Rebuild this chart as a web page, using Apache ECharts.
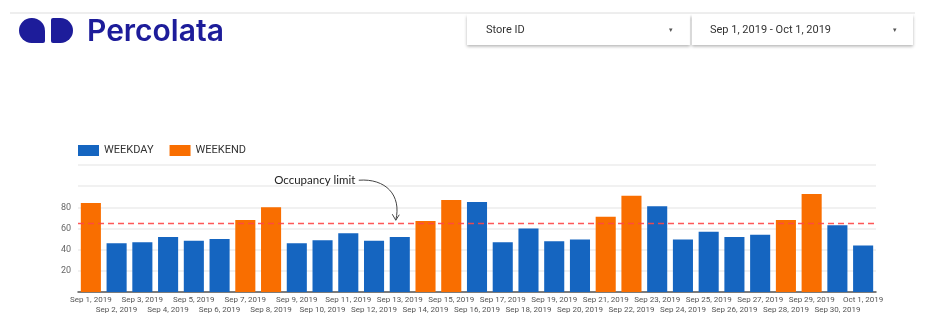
<!DOCTYPE html>
<html>
<head>
<meta charset="utf-8">
<script src="https://cdn.jsdelivr.net/npm/echarts@6/dist/echarts.min.js"></script>
<style>
html,body{margin:0;padding:0;background:#fff;}
#main{width:939px;height:330px;}
</style>
</head>
<body>
<div id="main"></div>
<script>
const categories = ['Sep 1, 2019','Sep 2, 2019','Sep 3, 2019','Sep 4, 2019','Sep 5, 2019','Sep 6, 2019','Sep 7, 2019','Sep 8, 2019','Sep 9, 2019','Sep 10, 2019','Sep 11, 2019','Sep 12, 2019','Sep 13, 2019','Sep 14, 2019','Sep 15, 2019','Sep 16, 2019','Sep 17, 2019','Sep 18, 2019','Sep 19, 2019','Sep 20, 2019','Sep 21, 2019','Sep 22, 2019','Sep 23, 2019','Sep 24, 2019','Sep 25, 2019','Sep 26, 2019','Sep 27, 2019','Sep 28, 2019','Sep 29, 2019','Sep 30, 2019','Oct 1, 2019'];
const weekday = [null,46,47,52,48.5,50,null,null,46,49,55.5,48.5,52,null,null,85,47,60,48,49.5,null,null,81,49.5,57,52,54,null,null,63,44];
const weekend = [84,null,null,null,null,null,68,80,null,null,null,null,null,67,87,null,null,null,null,null,71,91,null,null,null,null,null,68,92.5,null,null];
const occupancyLimit = 65;
const yTicks = [20,40,60,80];

const chart = echarts.init(document.getElementById('main'));
const BLUE = '#1565c0', ORANGE = '#f96e00';
const limitStyle = {color:'rgba(255,70,70,0.9)', type:[6,4], width:1.3};

chart.setOption({
  animation:false,
  legend:{
    left:78, top:145, itemWidth:21, itemHeight:11, itemGap:16, padding:0,
    icon:'rect',
    textStyle:{fontFamily:'Roboto', fontSize:11, color:'#333'},
    data:['WEEKDAY','WEEKEND']
  },
  grid:{left:78, right:63, top:165, bottom:38},
  xAxis:{
    type:'category', data:categories,
    axisLine:{lineStyle:{color:'#555', width:1.5}},
    axisTick:{show:false},
    axisLabel:{
      interval:0, fontFamily:'Roboto', fontSize:8, color:'#555', margin:3, lineHeight:10,
      formatter:(v,i)=> i%2===1 ? '\n'+v : v
    }
  },
  yAxis:{
    type:'value', min:0, max:120, interval:20,
    axisLine:{show:false}, axisTick:{show:false},
    splitLine:{lineStyle:{color:'#ececec', width:1.5}},
    axisLabel:{fontFamily:'Roboto', fontSize:9, color:'#666', margin:7,
      formatter:v=> yTicks.includes(v) ? String(v) : ''}
  },
  series:[
    {name:'WEEKDAY', type:'bar', stack:'s', data:weekday, barWidth:'78%',
     itemStyle:{color:BLUE},
     markLine:{silent:true, symbol:['none','none'], label:{show:false},
       lineStyle:limitStyle, itemStyle:{color:limitStyle.color},
       data:[{yAxis:occupancyLimit, lineStyle:limitStyle}]}},
    {name:'WEEKEND', type:'bar', stack:'s', data:weekend, barWidth:'78%',
     itemStyle:{color:ORANGE}}
  ]
});

const tip = chart.convertToPixel('grid', ['Sep 13, 2019', occupancyLimit]);
const tx = tip[0]-4, ty = tip[1]-3;

chart.setOption({
  graphic:[
    // header line
    {type:'rect', shape:{x:10,y:12,width:905,height:2}, style:{fill:'#eeeeee'}},
    // logo
    {type:'rect', shape:{x:19,y:18,width:26,height:25,r:[13,13,2,13]}, style:{fill:'#1d1c9a'}},
    {type:'rect', shape:{x:51,y:18,width:22,height:25,r:[2,12.5,12.5,2]}, style:{fill:'#1d1c9a'}},
    {type:'text', left:87, top:17, style:{text:'Percolata', fontFamily:'Inter', fontWeight:600, fontSize:30, fill:'#1d1c9a'}},
    // dropdowns
    {type:'rect', shape:{x:467,y:14,width:223,height:31}, style:{fill:'#fff', shadowBlur:3, shadowOffsetY:1.5, shadowColor:'rgba(0,0,0,0.3)'}},
    {type:'rect', shape:{x:692,y:14,width:221,height:31}, style:{fill:'#fff', shadowBlur:3, shadowOffsetY:1.5, shadowColor:'rgba(0,0,0,0.3)'}},
    {type:'text', left:486, top:25, style:{text:'Store ID', fontFamily:'Roboto', fontSize:11, fill:'#333'}},
    {type:'text', left:710, top:25, style:{text:'Sep 1, 2019 - Oct 1, 2019', fontFamily:'Roboto', fontSize:11, fill:'#333'}},
    {type:'text', left:669, top:27, style:{text:'▾', fontFamily:'DejaVu Sans', fontSize:7, fill:'#555'}},
    {type:'text', left:893, top:27, style:{text:'▾', fontFamily:'DejaVu Sans', fontSize:7, fill:'#555'}},
    // annotation
    {type:'text', x:tx-81, y:ty-40, style:{text:'Occupancy limit', fontFamily:'Lato', fontSize:11.5, fill:'#222', textAlign:'center', textVerticalAlign:'middle'}},
    {type:'bezierCurve', shape:{x1:tx-37,y1:ty-40,cpx1:tx-10,cpy1:ty-42,cpx2:tx+6,cpy2:ty-25,x2:tx,y2:ty}, style:{stroke:'#444', lineWidth:1, fill:null}},
    {type:'polyline', shape:{points:[[tx-3.5,ty-6],[tx,ty],[tx+3.5,ty-5.5]]}, style:{stroke:'#444', lineWidth:1, fill:null}}
  ]
});
</script>
</body>
</html>
